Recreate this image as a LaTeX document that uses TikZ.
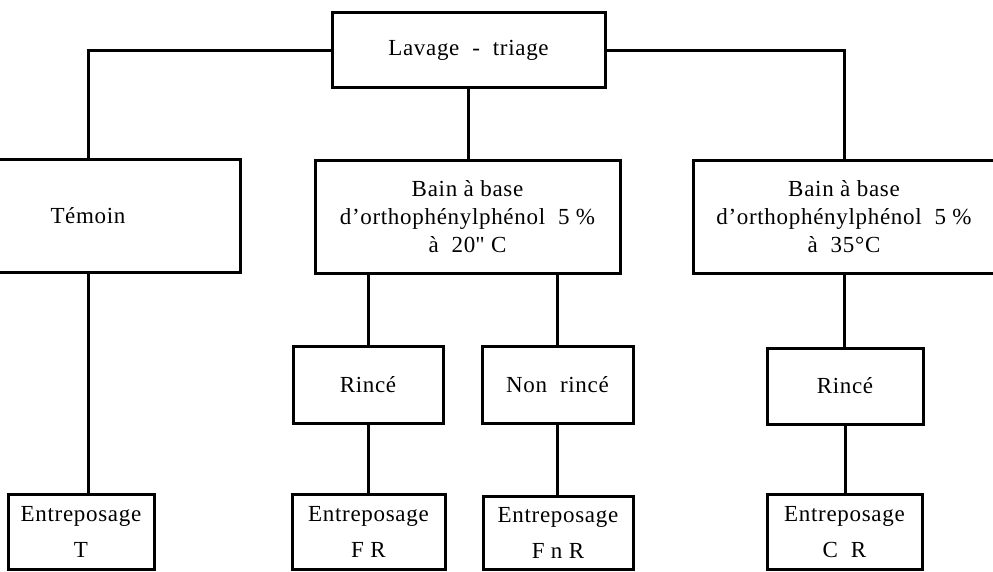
\documentclass[tikz,border=0pt]{standalone}
\usepackage{fontspec}
\setmainfont[LetterSpace=3]{Liberation Serif}
\begin{document}
\begin{tikzpicture}[x=1pt,y=-1pt,
  box/.style={draw, line width=3pt, align=center, inner sep=0pt,
    font=\fontsize{23}{28}\selectfont},
  sbox/.style={box, font=\fontsize{23}{36}\selectfont},
  link/.style={line width=3pt}]
\useasboundingbox (0,0) rectangle (993,572);
% nodes
\node[box, minimum width=273pt, minimum height=75pt] (lav) at (468.5,50.5) {Lavage\ \ -\ \ triage};
\node[box, minimum width=304pt, minimum height=112pt] (temoin) at (88,216) {Témoin};
\node[box, minimum width=305pt, minimum height=112pt] (bain1) at (467.5,217) {Bain\ à\ base\\d’orthophénylphénol\ \ 5\ \%\\à\ \ 20\textquotedbl\ C};
\node[box, minimum width=302pt, minimum height=112pt] (bain2) at (844,217) {Bain\ à\ base\\d’orthophénylphénol\ \ 5\ \%\\à\ \ 35°C};
\node[box, minimum width=150pt, minimum height=77pt] (rin1) at (368,385) {Rincé};
\node[box, minimum width=151pt, minimum height=77pt] (nrin) at (557.5,385) {Non\ \ rincé};
\node[box, minimum width=156pt, minimum height=76pt] (rin2) at (845,386) {Rincé};
\node[sbox, minimum width=146pt, minimum height=75pt] (et) at (81,532) {Entreposage\\T};
\node[sbox, minimum width=153pt, minimum height=75pt] (efr) at (368.5,532) {Entreposage\\F R};
\node[sbox, minimum width=150pt, minimum height=73pt] (efnr) at (558,533) {Entreposage\\F n R};
\node[sbox, minimum width=155pt, minimum height=75pt] (ecr) at (844.5,532) {Entreposage\\C\ \ R};
% connectors
\draw[link] (lav.west) -| (temoin.north);
\draw[link] (lav.east) -| (bain2.north);
\draw[link] (lav.south) -- (lav.south |- bain1.north);
\draw[link] (temoin.south) -- (temoin.south |- et.north);
\draw[link] (rin1.north |- bain1.south) -- (rin1.north);
\draw[link] (nrin.north |- bain1.south) -- (nrin.north);
\draw[link] (bain2.south) -- (bain2.south |- rin2.north);
\draw[link] (rin1.south) -- (rin1.south |- efr.north);
\draw[link] (nrin.south) -- (nrin.south |- efnr.north);
\draw[link] (rin2.south) -- (rin2.south |- ecr.north);
\end{tikzpicture}
\end{document}
